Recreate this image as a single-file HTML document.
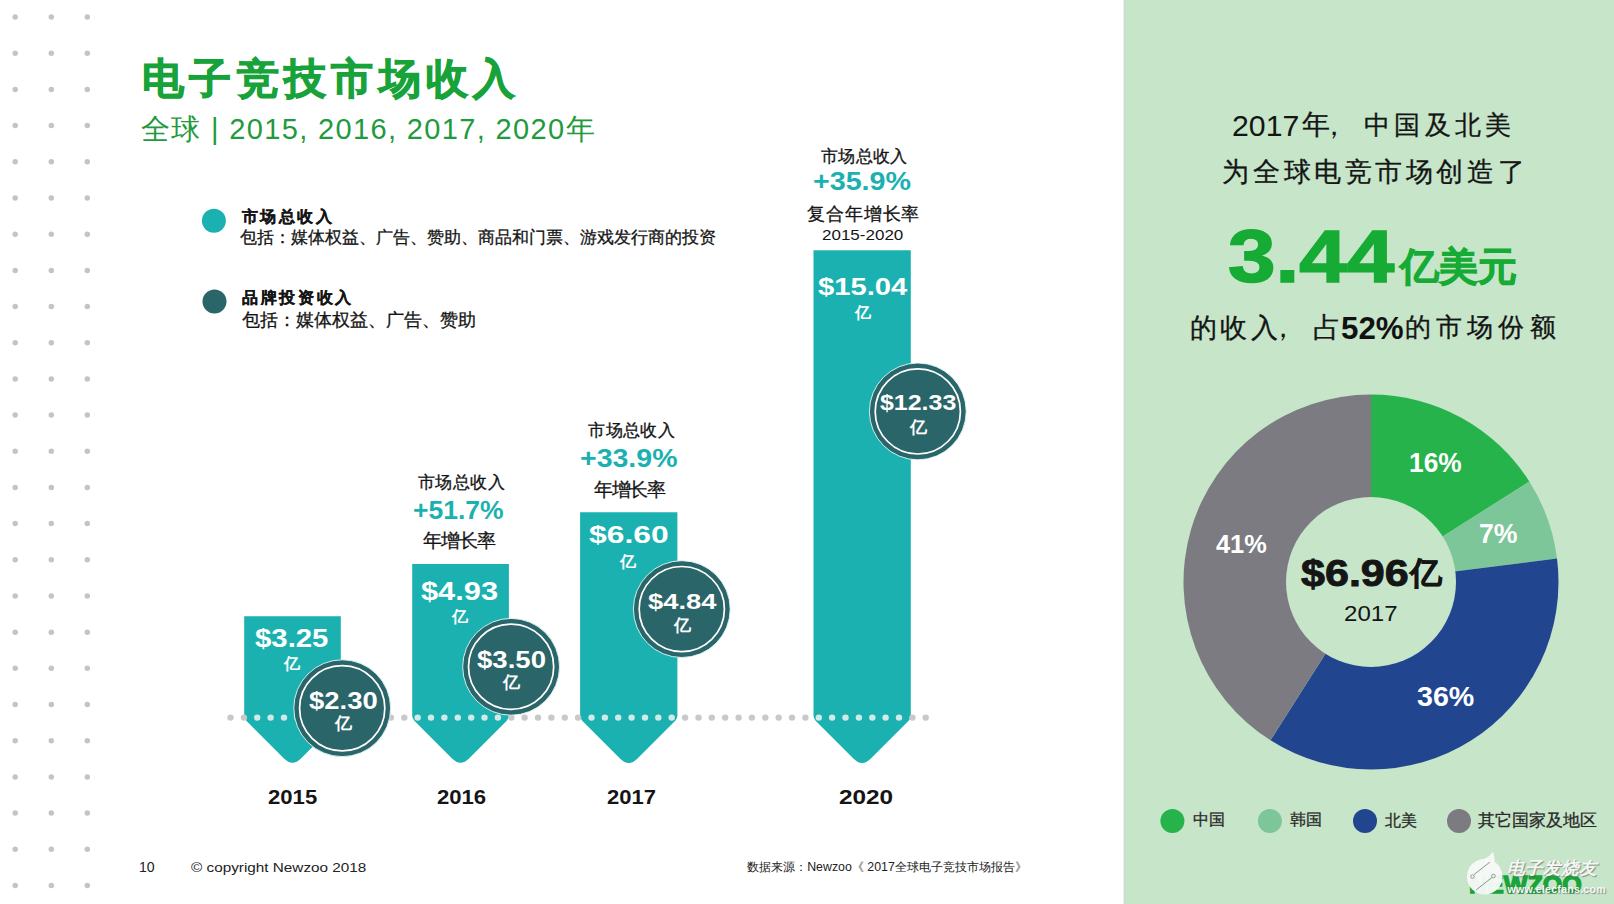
<!DOCTYPE html>
<html><head><meta charset="utf-8">
<style>
html,body{margin:0;padding:0;}
body{width:1614px;height:904px;position:relative;overflow:hidden;background:#fff;font-family:"Liberation Sans",sans-serif;color:#151515;}
.a{position:absolute;white-space:nowrap;line-height:1;}
svg{position:absolute;left:0;top:0;}
</style></head>
<body>

<svg width="1614" height="904" viewBox="0 0 1614 904">
<rect x="1124" y="0" width="490" height="904" fill="#c6e5c9"/>
<rect x="1123.6" y="0" width="1.8" height="904" fill="#cfdad1"/>
<rect x="1125.4" y="0" width="2.5" height="904" fill="#c4e6c6"/>
<g fill="#c4c4c4">
<circle cx="15.2" cy="17.1" r="2.75"/>
<circle cx="51.3" cy="17.1" r="2.75"/>
<circle cx="87.3" cy="17.1" r="2.75"/>
<circle cx="15.2" cy="53.3" r="2.75"/>
<circle cx="51.3" cy="53.3" r="2.75"/>
<circle cx="87.3" cy="53.3" r="2.75"/>
<circle cx="15.2" cy="89.5" r="2.75"/>
<circle cx="51.3" cy="89.5" r="2.75"/>
<circle cx="87.3" cy="89.5" r="2.75"/>
<circle cx="15.2" cy="125.6" r="2.75"/>
<circle cx="51.3" cy="125.6" r="2.75"/>
<circle cx="87.3" cy="125.6" r="2.75"/>
<circle cx="15.2" cy="161.8" r="2.75"/>
<circle cx="51.3" cy="161.8" r="2.75"/>
<circle cx="87.3" cy="161.8" r="2.75"/>
<circle cx="15.2" cy="198.0" r="2.75"/>
<circle cx="51.3" cy="198.0" r="2.75"/>
<circle cx="87.3" cy="198.0" r="2.75"/>
<circle cx="15.2" cy="234.2" r="2.75"/>
<circle cx="51.3" cy="234.2" r="2.75"/>
<circle cx="87.3" cy="234.2" r="2.75"/>
<circle cx="15.2" cy="270.4" r="2.75"/>
<circle cx="51.3" cy="270.4" r="2.75"/>
<circle cx="87.3" cy="270.4" r="2.75"/>
<circle cx="15.2" cy="306.5" r="2.75"/>
<circle cx="51.3" cy="306.5" r="2.75"/>
<circle cx="87.3" cy="306.5" r="2.75"/>
<circle cx="15.2" cy="342.7" r="2.75"/>
<circle cx="51.3" cy="342.7" r="2.75"/>
<circle cx="87.3" cy="342.7" r="2.75"/>
<circle cx="15.2" cy="378.9" r="2.75"/>
<circle cx="51.3" cy="378.9" r="2.75"/>
<circle cx="87.3" cy="378.9" r="2.75"/>
<circle cx="15.2" cy="415.1" r="2.75"/>
<circle cx="51.3" cy="415.1" r="2.75"/>
<circle cx="87.3" cy="415.1" r="2.75"/>
<circle cx="15.2" cy="451.3" r="2.75"/>
<circle cx="51.3" cy="451.3" r="2.75"/>
<circle cx="87.3" cy="451.3" r="2.75"/>
<circle cx="15.2" cy="487.4" r="2.75"/>
<circle cx="51.3" cy="487.4" r="2.75"/>
<circle cx="87.3" cy="487.4" r="2.75"/>
<circle cx="15.2" cy="523.6" r="2.75"/>
<circle cx="51.3" cy="523.6" r="2.75"/>
<circle cx="87.3" cy="523.6" r="2.75"/>
<circle cx="15.2" cy="559.8" r="2.75"/>
<circle cx="51.3" cy="559.8" r="2.75"/>
<circle cx="87.3" cy="559.8" r="2.75"/>
<circle cx="15.2" cy="596.0" r="2.75"/>
<circle cx="51.3" cy="596.0" r="2.75"/>
<circle cx="87.3" cy="596.0" r="2.75"/>
<circle cx="15.2" cy="632.2" r="2.75"/>
<circle cx="51.3" cy="632.2" r="2.75"/>
<circle cx="87.3" cy="632.2" r="2.75"/>
<circle cx="15.2" cy="668.3" r="2.75"/>
<circle cx="51.3" cy="668.3" r="2.75"/>
<circle cx="87.3" cy="668.3" r="2.75"/>
<circle cx="15.2" cy="704.5" r="2.75"/>
<circle cx="51.3" cy="704.5" r="2.75"/>
<circle cx="87.3" cy="704.5" r="2.75"/>
<circle cx="15.2" cy="740.7" r="2.75"/>
<circle cx="51.3" cy="740.7" r="2.75"/>
<circle cx="87.3" cy="740.7" r="2.75"/>
<circle cx="15.2" cy="776.9" r="2.75"/>
<circle cx="51.3" cy="776.9" r="2.75"/>
<circle cx="87.3" cy="776.9" r="2.75"/>
<circle cx="15.2" cy="813.1" r="2.75"/>
<circle cx="51.3" cy="813.1" r="2.75"/>
<circle cx="87.3" cy="813.1" r="2.75"/>
<circle cx="15.2" cy="849.2" r="2.75"/>
<circle cx="51.3" cy="849.2" r="2.75"/>
<circle cx="87.3" cy="849.2" r="2.75"/>
<circle cx="15.2" cy="885.4" r="2.75"/>
<circle cx="51.3" cy="885.4" r="2.75"/>
<circle cx="87.3" cy="885.4" r="2.75"/>
</g>
<path d="M244.2,616.2 L340.8,616.2 L340.8,715.6 Q340.8,718.6 338.68,720.72 L300.99,758.41 Q292.5,766.9000000000001 284.01,758.41 L246.32,720.72 Q244.2,718.6 244.2,715.6 Z" fill="#1bb1b0"/>
<path d="M412.2,564.0 L508.9,564.0 L508.9,715.6 Q508.9,718.6 506.78,720.72 L469.04,758.46 Q460.54999999999995,766.95 452.06,758.46 L414.32,720.72 Q412.2,718.6 412.2,715.6 Z" fill="#1bb1b0"/>
<path d="M580.1,512.3 L677.4,512.3 L677.4,715.6 Q677.4,718.6 675.28,720.72 L637.24,758.76 Q628.75,767.25 620.26,758.76 L582.22,720.72 Q580.1,718.6 580.1,715.6 Z" fill="#1bb1b0"/>
<path d="M813.5,250.2 L910.8,250.2 L910.8,715.6 Q910.8,718.6 908.68,720.72 L870.64,758.76 Q862.15,767.25 853.66,758.76 L815.62,720.72 Q813.5,718.6 813.5,715.6 Z" fill="#1bb1b0"/>
<g>
<circle cx="230.5" cy="717.6" r="3.2" fill="#c9c9c9"/>
<circle cx="243.9" cy="717.6" r="3.2" fill="#c9c9c9"/>
<circle cx="257.2" cy="717.6" r="3.2" fill="#d2e9e9"/>
<circle cx="270.6" cy="717.6" r="3.2" fill="#d2e9e9"/>
<circle cx="284.0" cy="717.6" r="3.2" fill="#d2e9e9"/>
<circle cx="297.4" cy="717.6" r="3.2" fill="#d2e9e9"/>
<circle cx="310.7" cy="717.6" r="3.2" fill="#d2e9e9"/>
<circle cx="324.1" cy="717.6" r="3.2" fill="#d2e9e9"/>
<circle cx="337.5" cy="717.6" r="3.2" fill="#d2e9e9"/>
<circle cx="350.8" cy="717.6" r="3.2" fill="#c9c9c9"/>
<circle cx="364.2" cy="717.6" r="3.2" fill="#c9c9c9"/>
<circle cx="377.6" cy="717.6" r="3.2" fill="#c9c9c9"/>
<circle cx="390.9" cy="717.6" r="3.2" fill="#c9c9c9"/>
<circle cx="404.3" cy="717.6" r="3.2" fill="#c9c9c9"/>
<circle cx="417.7" cy="717.6" r="3.2" fill="#d2e9e9"/>
<circle cx="431.0" cy="717.6" r="3.2" fill="#d2e9e9"/>
<circle cx="444.4" cy="717.6" r="3.2" fill="#d2e9e9"/>
<circle cx="457.8" cy="717.6" r="3.2" fill="#d2e9e9"/>
<circle cx="471.2" cy="717.6" r="3.2" fill="#d2e9e9"/>
<circle cx="484.5" cy="717.6" r="3.2" fill="#d2e9e9"/>
<circle cx="497.9" cy="717.6" r="3.2" fill="#d2e9e9"/>
<circle cx="511.3" cy="717.6" r="3.2" fill="#c9c9c9"/>
<circle cx="524.6" cy="717.6" r="3.2" fill="#c9c9c9"/>
<circle cx="538.0" cy="717.6" r="3.2" fill="#c9c9c9"/>
<circle cx="551.4" cy="717.6" r="3.2" fill="#c9c9c9"/>
<circle cx="564.8" cy="717.6" r="3.2" fill="#c9c9c9"/>
<circle cx="578.1" cy="717.6" r="3.2" fill="#c9c9c9"/>
<circle cx="591.5" cy="717.6" r="3.2" fill="#d2e9e9"/>
<circle cx="604.9" cy="717.6" r="3.2" fill="#d2e9e9"/>
<circle cx="618.2" cy="717.6" r="3.2" fill="#d2e9e9"/>
<circle cx="631.6" cy="717.6" r="3.2" fill="#d2e9e9"/>
<circle cx="645.0" cy="717.6" r="3.2" fill="#d2e9e9"/>
<circle cx="658.3" cy="717.6" r="3.2" fill="#d2e9e9"/>
<circle cx="671.7" cy="717.6" r="3.2" fill="#d2e9e9"/>
<circle cx="685.1" cy="717.6" r="3.2" fill="#c9c9c9"/>
<circle cx="698.5" cy="717.6" r="3.2" fill="#c9c9c9"/>
<circle cx="711.8" cy="717.6" r="3.2" fill="#c9c9c9"/>
<circle cx="725.2" cy="717.6" r="3.2" fill="#c9c9c9"/>
<circle cx="738.6" cy="717.6" r="3.2" fill="#c9c9c9"/>
<circle cx="751.9" cy="717.6" r="3.2" fill="#c9c9c9"/>
<circle cx="765.3" cy="717.6" r="3.2" fill="#c9c9c9"/>
<circle cx="778.7" cy="717.6" r="3.2" fill="#c9c9c9"/>
<circle cx="792.0" cy="717.6" r="3.2" fill="#c9c9c9"/>
<circle cx="805.4" cy="717.6" r="3.2" fill="#c9c9c9"/>
<circle cx="818.8" cy="717.6" r="3.2" fill="#d2e9e9"/>
<circle cx="832.1" cy="717.6" r="3.2" fill="#d2e9e9"/>
<circle cx="845.5" cy="717.6" r="3.2" fill="#d2e9e9"/>
<circle cx="858.9" cy="717.6" r="3.2" fill="#d2e9e9"/>
<circle cx="872.3" cy="717.6" r="3.2" fill="#d2e9e9"/>
<circle cx="885.6" cy="717.6" r="3.2" fill="#d2e9e9"/>
<circle cx="899.0" cy="717.6" r="3.2" fill="#d2e9e9"/>
<circle cx="912.4" cy="717.6" r="3.2" fill="#c9c9c9"/>
<circle cx="925.7" cy="717.6" r="3.2" fill="#c9c9c9"/>
</g>
<circle cx="342.2" cy="708.2" r="48.4" fill="#2a6569" stroke="#e8fbfb" stroke-width="0.9"/>
<circle cx="342.2" cy="708.2" r="42.6" fill="none" stroke="#ffffff" stroke-width="1.7"/>
<circle cx="511.1" cy="666.8" r="48.4" fill="#2a6569" stroke="#e8fbfb" stroke-width="0.9"/>
<circle cx="511.1" cy="666.8" r="42.6" fill="none" stroke="#ffffff" stroke-width="1.7"/>
<circle cx="681.8" cy="609.1" r="48.4" fill="#2a6569" stroke="#e8fbfb" stroke-width="0.9"/>
<circle cx="681.8" cy="609.1" r="42.6" fill="none" stroke="#ffffff" stroke-width="1.7"/>
<circle cx="917.8" cy="411.4" r="48.4" fill="#2a6569" stroke="#e8fbfb" stroke-width="0.9"/>
<circle cx="917.8" cy="411.4" r="42.6" fill="none" stroke="#ffffff" stroke-width="1.7"/>
<path d="M1371,582 L1371.00,394.50 A187.5,187.5 0 0 1 1529.31,481.53 Z" fill="#27b34b"/>
<path d="M1371,582 L1529.31,481.53 A187.5,187.5 0 0 1 1557.02,558.50 Z" fill="#7cc699"/>
<path d="M1371,582 L1557.02,558.50 A187.5,187.5 0 0 1 1270.53,740.31 Z" fill="#21468f"/>
<path d="M1371,582 L1270.53,740.31 A187.5,187.5 0 0 1 1371.00,394.50 Z" fill="#7c7b81"/>
<circle cx="1371" cy="582" r="85" fill="#c6e5c9"/>
<circle cx="213.9" cy="220.8" r="12" fill="#1bb1b0"/>
<circle cx="214.5" cy="301.4" r="12" fill="#2a6569"/>
<circle cx="1172.4" cy="821" r="12" fill="#27b34b"/>
<circle cx="1269.9" cy="821" r="12" fill="#7cc699"/>
<circle cx="1365" cy="821" r="12" fill="#21468f"/>
<circle cx="1459" cy="821" r="12" fill="#7c7b81"/>
</svg>
<div class="a" style="left:142.0px;top:57.6px;font-size:41.57px;letter-spacing:5.31px;color:#18a23a;font-weight:bold;-webkit-text-stroke:1.0px #18a23a;">电子竞技市场收入</div>
<div class="a" style="left:140.8px;top:115.0px;font-size:29px;letter-spacing:1.36px;color:#1f9a3e;">全球 | 2015, 2016, 2017, 2020年</div>
<div class="a" style="left:241.6px;top:208.0px;font-size:16.11px;letter-spacing:2.52px;color:#151515;font-weight:bold;-webkit-text-stroke:0.2px #151515;">市场总收入</div>
<div class="a" style="left:239.5px;top:230.45px;font-size:16.87px;letter-spacing:0px;color:#151515;-webkit-text-stroke:0.3px #151515;">包括：媒体权益、广告、赞助、商品和门票、游戏发行商的投资</div>
<div class="a" style="left:241.9px;top:289.3px;font-size:16.4px;letter-spacing:2.66px;color:#151515;font-weight:bold;-webkit-text-stroke:0.2px #151515;">品牌投资收入</div>
<div class="a" style="left:241.6px;top:312.2px;font-size:17.73px;letter-spacing:0px;color:#151515;-webkit-text-stroke:0.3px #151515;">包括：媒体权益、广告、赞助</div>
<div class="a" style="left:417.5px;top:474.1px;font-size:16.5px;letter-spacing:0.5px;color:#151515;-webkit-text-stroke:0.3px #151515;">市场总收入</div>
<div class="a" style="left:413.2px;top:496.9px;font-size:26.11px;letter-spacing:0px;color:#1bb1b0;font-weight:bold;transform:scaleX(1.0148);transform-origin:0 0;">+51.7%</div>
<div class="a" style="left:423.2px;top:532.0px;font-size:18.5px;letter-spacing:-1.07px;color:#151515;-webkit-text-stroke:0.3px #151515;">年增长率</div>
<div class="a" style="left:588.1px;top:422.2px;font-size:16.5px;letter-spacing:0.42px;color:#151515;-webkit-text-stroke:0.3px #151515;">市场总收入</div>
<div class="a" style="left:580.4px;top:444.7px;font-size:26.39px;letter-spacing:0px;color:#1bb1b0;font-weight:bold;transform:scaleX(1.0809);transform-origin:0 0;">+33.9%</div>
<div class="a" style="left:593.9px;top:481.4px;font-size:18.5px;letter-spacing:-1.27px;color:#151515;-webkit-text-stroke:0.3px #151515;">年增长率</div>
<div class="a" style="left:820.9px;top:148.4px;font-size:16.5px;letter-spacing:0.35px;color:#151515;-webkit-text-stroke:0.3px #151515;">市场总收入</div>
<div class="a" style="left:813.3px;top:167.7px;font-size:26.53px;letter-spacing:0px;color:#1bb1b0;font-weight:bold;transform:scaleX(1.0809);transform-origin:0 0;">+35.9%</div>
<div class="a" style="left:807.4px;top:204.5px;font-size:18.4px;letter-spacing:0.78px;color:#151515;-webkit-text-stroke:0.3px #151515;">复合年增长率</div>
<div class="a" style="left:821.7px;top:227.2px;font-size:15.3px;letter-spacing:0px;color:#151515;transform:scaleX(1.1111);transform-origin:0 0;">2015-2020</div>
<div class="a" style="left:254.7px;top:625.5px;font-size:25.83px;letter-spacing:0px;color:#fff;font-weight:bold;transform:scaleX(1.1359);transform-origin:0 0;">$3.25</div>
<div class="a" style="left:420.7px;top:579.0px;font-size:25.24px;letter-spacing:0px;color:#fff;font-weight:bold;transform:scaleX(1.2194);transform-origin:0 0;">$4.93</div>
<div class="a" style="left:588.5px;top:523.3px;font-size:24.65px;letter-spacing:0px;color:#fff;font-weight:bold;transform:scaleX(1.2917);transform-origin:0 0;">$6.60</div>
<div class="a" style="left:817.9px;top:275.4px;font-size:23.95px;letter-spacing:0px;color:#fff;font-weight:bold;transform:scaleX(1.2194);transform-origin:0 0;">$15.04</div>
<div class="a" style="left:308.8px;top:689.8px;font-size:23.64px;letter-spacing:0px;color:#fff;font-weight:bold;transform:scaleX(1.1614);transform-origin:0 0;">$2.30</div>
<div class="a" style="left:476.9px;top:648.8px;font-size:23.04px;letter-spacing:0px;color:#fff;font-weight:bold;transform:scaleX(1.1964);transform-origin:0 0;">$3.50</div>
<div class="a" style="left:648.2px;top:589.6px;font-size:22.92px;letter-spacing:0px;color:#fff;font-weight:bold;transform:scaleX(1.1964);transform-origin:0 0;">$4.84</div>
<div class="a" style="left:880.2px;top:391.3px;font-size:22.8px;letter-spacing:0px;color:#fff;font-weight:bold;transform:scaleX(1.0941);transform-origin:0 0;">$12.33</div>
<div class="a" style="left:267.5px;top:788.4px;font-size:19.57px;letter-spacing:0px;color:#151515;font-weight:bold;transform:scaleX(1.131);transform-origin:0 0;">2015</div>
<div class="a" style="left:436.6px;top:788.4px;font-size:19.57px;letter-spacing:0px;color:#151515;font-weight:bold;transform:scaleX(1.1286);transform-origin:0 0;">2016</div>
<div class="a" style="left:606.7px;top:788.4px;font-size:19.57px;letter-spacing:0px;color:#151515;font-weight:bold;transform:scaleX(1.1238);transform-origin:0 0;">2017</div>
<div class="a" style="left:839.1px;top:786.9px;font-size:20.57px;letter-spacing:0px;color:#151515;font-weight:bold;transform:scaleX(1.1841);transform-origin:0 0;">2020</div>
<div class="a" style="left:138.8px;top:861.1px;font-size:13.87px;letter-spacing:0px;color:#222;transform:scaleX(1.0143);transform-origin:0 0;">10</div>
<div class="a" style="left:191.4px;top:862.1px;font-size:12.4px;letter-spacing:0px;color:#222;transform:scaleX(1.234);transform-origin:0 0;">© copyright Newzoo 2018</div>
<div class="a" style="left:747.2px;top:860.65px;font-size:12.37px;letter-spacing:0px;color:#222;">数据来源：Newzoo《 2017全球电子竞技市场报告》</div>
<div class="a" style="left:1231.6px;top:111.1px;font-size:29.33px;letter-spacing:0px;color:#151515;transform:scaleX(1.0317);transform-origin:0 0;">2017</div>
<div class="a" style="left:1302.0px;top:111.3px;font-size:27.69px;letter-spacing:0px;color:#151515;-webkit-text-stroke:0.3px #151515;">年</div>
<div class="a" style="left:1320.0px;top:111.7px;font-size:28px;letter-spacing:0px;color:#151515;">，</div>
<div class="a" style="left:1364.3px;top:111.5px;font-size:26.3px;letter-spacing:4.18px;color:#151515;-webkit-text-stroke:0.3px #151515;">中国及北美</div>
<div class="a" style="left:1222.4px;top:157.8px;font-size:27.1px;letter-spacing:3.58px;color:#151515;-webkit-text-stroke:0.3px #151515;">为全球电竞市场创造了</div>
<div class="a" style="left:1227.6px;top:221.3px;font-size:73.37px;letter-spacing:0px;color:#16ab34;font-weight:bold;-webkit-text-stroke:1.6px #16ab34;transform:scaleX(1.1648);transform-origin:0 0;">3.44</div>
<div class="a" style="left:1399.9px;top:247.0px;font-size:39.34px;letter-spacing:0px;color:#16ab34;font-weight:bold;-webkit-text-stroke:0.9px #16ab34;">亿美元</div>
<div class="a" style="left:1189.8px;top:315.3px;font-size:26.96px;letter-spacing:3.45px;color:#151515;-webkit-text-stroke:0.3px #151515;">的收入</div>
<div class="a" style="left:1268.6px;top:313.5px;font-size:28px;letter-spacing:0px;color:#151515;">，</div>
<div class="a" style="left:1313.4px;top:313.95px;font-size:28px;letter-spacing:0px;color:#151515;-webkit-text-stroke:0.3px #151515;">占</div>
<div class="a" style="left:1341.3px;top:313.3px;font-size:31.09px;letter-spacing:0px;color:#111;font-weight:bold;transform:scaleX(1.0083);transform-origin:0 0;">52%</div>
<div class="a" style="left:1405.0px;top:314.3px;font-size:26.0px;letter-spacing:5.15px;color:#151515;-webkit-text-stroke:0.3px #151515;">的市场份额</div>
<div class="a" style="left:1300.5px;top:556.4px;font-size:36.63px;letter-spacing:0px;color:#151515;font-weight:bold;-webkit-text-stroke:0.9px #151515;transform:scaleX(1.1758);transform-origin:0 0;">$6.96</div>
<div class="a" style="left:1410.0px;top:558.0px;font-size:31.76px;letter-spacing:0px;color:#151515;font-weight:bold;-webkit-text-stroke:0.6px #151515;">亿</div>
<div class="a" style="left:1343.6px;top:603.3px;font-size:22.19px;letter-spacing:0px;color:#151515;transform:scaleX(1.0851);transform-origin:0 0;">2017</div>
<div class="a" style="left:1409.3px;top:449.0px;font-size:27.53px;letter-spacing:0px;color:#fff;font-weight:bold;transform:scaleX(0.9558);transform-origin:0 0;">16%</div>
<div class="a" style="left:1479.3px;top:520.3px;font-size:27.25px;letter-spacing:0px;color:#fff;font-weight:bold;transform:scaleX(0.9789);transform-origin:0 0;">7%</div>
<div class="a" style="left:1215.5px;top:531.0px;font-size:26.68px;letter-spacing:0px;color:#fff;font-weight:bold;transform:scaleX(0.9509);transform-origin:0 0;">41%</div>
<div class="a" style="left:1417.0px;top:681.7px;font-size:28.52px;letter-spacing:0px;color:#fff;font-weight:bold;transform:scaleX(1.0036);transform-origin:0 0;">36%</div>
<div class="a" style="left:1192.5px;top:811.15px;font-size:16.16px;letter-spacing:0px;color:#2a2a2a;-webkit-text-stroke:0.3px #2a2a2a;">中国</div>
<div class="a" style="left:1290.4px;top:811.15px;font-size:16.41px;letter-spacing:0px;color:#2a2a2a;-webkit-text-stroke:0.3px #2a2a2a;">韩国</div>
<div class="a" style="left:1385.0px;top:812.65px;font-size:15.79px;letter-spacing:0px;color:#2a2a2a;-webkit-text-stroke:0.3px #2a2a2a;">北美</div>
<div class="a" style="left:1478.3px;top:811.65px;font-size:16.5px;letter-spacing:0px;color:#2a2a2a;-webkit-text-stroke:0.3px #2a2a2a;">其它国家及地区</div>
<div class="a" style="left:284.0px;top:656.0px;font-size:16.0px;letter-spacing:0px;color:#fff;font-weight:bold;">亿</div>
<div class="a" style="left:451.5px;top:608.85px;font-size:16.0px;letter-spacing:0px;color:#fff;font-weight:bold;">亿</div>
<div class="a" style="left:620.3px;top:554.0px;font-size:16.0px;letter-spacing:0px;color:#fff;font-weight:bold;">亿</div>
<div class="a" style="left:854.8px;top:305.25px;font-size:16.0px;letter-spacing:0px;color:#fff;font-weight:bold;">亿</div>
<div class="a" style="left:334.6px;top:716.2px;font-size:16.6px;letter-spacing:0px;color:#fff;font-weight:bold;">亿</div>
<div class="a" style="left:503.1px;top:674.85px;font-size:16.6px;letter-spacing:0px;color:#fff;font-weight:bold;">亿</div>
<div class="a" style="left:674.4px;top:617.5px;font-size:16.6px;letter-spacing:0px;color:#fff;font-weight:bold;">亿</div>
<div class="a" style="left:910.1px;top:419.8px;font-size:16.6px;letter-spacing:0px;color:#fff;font-weight:bold;">亿</div>
<div class="a" style="left:1468.5px;top:873.5px;font-size:23px;font-weight:bold;color:#1aa33a;-webkit-text-stroke:1.3px #1aa33a;transform:scaleX(1.09);transform-origin:0 0;">NEWZOO</div>
<svg width="1614" height="904" viewBox="0 0 1614 904">
<g fill="#f7f9f7" fill-opacity="0.96"><circle cx="1484.7" cy="876.7" r="17.8"/>
<path d="M1482,859.5 C1487,858 1491,855 1492.6,851.4 C1495,856 1495,862 1494,866 Z"/></g>
<path d="M1474,874.5 L1490,862 M1476,890 L1492,877.5" stroke="#7d8a7f" stroke-width="0.9" fill="none"/>
<circle cx="1472.5" cy="876.5" r="1.8" fill="none" stroke="#7d8a7f" stroke-width="0.8"/>
<circle cx="1493.5" cy="876" r="1.8" fill="none" stroke="#7d8a7f" stroke-width="0.8"/>
</svg>
<div class="a" style="left:1507px;top:860px;font-size:17.5px;font-weight:bold;font-style:italic;color:#f4f6f4;text-shadow:1px 1px 1px rgba(80,90,80,0.6);letter-spacing:0px;">电子发烧友</div>
<div class="a" style="left:1507.5px;top:883.5px;font-size:10.5px;font-weight:bold;color:#f6f8f6;text-shadow:1px 1px 1px rgba(80,90,80,0.6);letter-spacing:0.3px;">www.elecfans.com</div>
</body></html>
